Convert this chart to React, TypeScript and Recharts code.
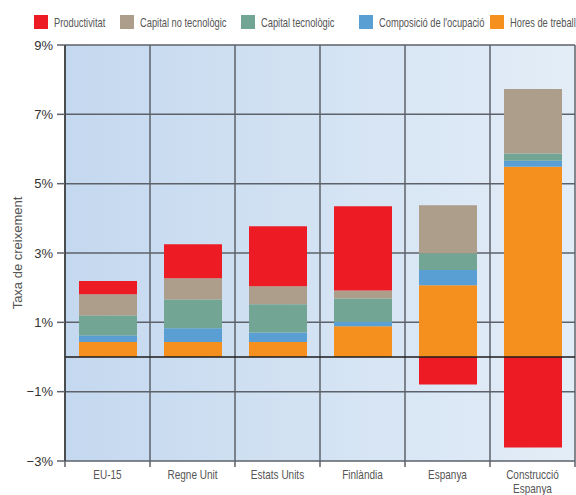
import React from 'react';
import {
  BarChart, Bar, XAxis, YAxis, CartesianGrid, ReferenceLine,
} from 'recharts';

// ─── Data ─────────────────────────────────────────────────────────────────────

const categories = ['EU-15', 'Regne Unit', 'Estats Units', 'Finlàndia', 'Espanya', 'Construcció Espanya'];

const hores         = [0.43, 0.43, 0.43, 0.89, 2.07, 5.49];
const composicio    = [0.19, 0.40, 0.28, 0.12, 0.44, 0.17];
const capTec        = [0.58, 0.83, 0.81, 0.68, 0.48, 0.21];
const capNoTec      = [0.61, 0.61, 0.52, 0.23, 1.39, 1.86];
const productivitat = [0.38, 0.98, 1.73, 2.43, -0.79, -2.61];

const yTicks = [-3, -1, 1, 3, 5, 7, 9];

// legend order (left to right) – stack order is the reverse
const series = [
  { key: 'productivitat', name: 'Productivitat',            color: '#ed1c24' },
  { key: 'capNoTec',      name: 'Capital no tecnològic',    color: '#ac9e8a' },
  { key: 'capTec',        name: 'Capital tecnològic',       color: '#72a593' },
  { key: 'composicio',    name: "Composició de l'ocupació", color: '#5a9fd4' },
  { key: 'hores',         name: 'Hores de treball',         color: '#f5901e' },
];

const data = categories.map((name, i) => ({
  name,
  hores: hores[i],
  composicio: composicio[i],
  capTec: capTec[i],
  capNoTec: capNoTec[i],
  productivitat: productivitat[i],
}));

// ─── Layout ───────────────────────────────────────────────────────────────────

const W = 576;
const H = 495;
const MARGIN = { top: 45, right: 1, bottom: 0, left: 0 };
const Y_AXIS_W = 65;
const X_AXIS_H = 34;
const PLOT_BOTTOM = H - MARGIN.bottom - X_AXIS_H;
const BAND = (W - MARGIN.left - MARGIN.right - Y_AXIS_W) / categories.length;

// no condensed face is installed, so text is squeezed horizontally instead
const FONT = "'Liberation Sans', Arial, sans-serif";
const LEGEND_X = [34, 120, 241, 359, 490];
const LEGEND_SQUEEZE = 0.69;
const TICK_SQUEEZE = 0.8;
const GRID = '#5d626a';

if (typeof document !== 'undefined') document.body.style.margin = '0';

// ─── X tick: label (wrapped) + tick mark at the band boundary ────────────────

// eslint-disable-next-line @typescript-eslint/no-explicit-any
function XTick(props: any) {
  const { x, payload, index } = props;
  const lines = payload.value === 'Construcció Espanya' ? String(payload.value).split(' ') : [payload.value];
  return (
    <g>
      <line x1={x - BAND / 2} x2={x - BAND / 2} y1={PLOT_BOTTOM} y2={PLOT_BOTTOM + 6} stroke={GRID} strokeWidth={1.5} />
      {index === categories.length - 1 && (
        <line x1={x + BAND / 2} x2={x + BAND / 2} y1={PLOT_BOTTOM} y2={PLOT_BOTTOM + 6} stroke={GRID} strokeWidth={1.5} />
      )}
      <g transform={`translate(${x},${PLOT_BOTTOM + 18}) scale(${TICK_SQUEEZE},1)`}>
        <text x={0} y={0} textAnchor="middle" fill="#555" fontSize={12.5}>
          {lines.map((l, i) => (
            <tspan key={i} x={0} dy={i === 0 ? 0 : 14}>{l}</tspan>
          ))}
        </text>
      </g>
    </g>
  );
}

const fmtPct = (v: number) => (v < 0 ? `\u2212${-v}%` : `${v}%`);

// ─── Component ────────────────────────────────────────────────────────────────

export default function App() {
  return (
    <div style={{ position: 'relative', width: W, height: H, fontFamily: FONT, background: '#fff', overflow: 'hidden' }}>
      {/* Legend */}
      {series.map((s, i) => (
        <div
          key={s.key}
          style={{ position: 'absolute', top: 14, left: LEGEND_X[i], height: 15, display: 'flex', alignItems: 'center', whiteSpace: 'nowrap' }}
        >
          <div style={{ width: 14, height: 14, background: s.color, marginRight: 6, flex: 'none' }} />
          <span
            style={{
              display: 'inline-block', fontSize: 13.5, lineHeight: '15px', color: '#555', marginTop: 2,
              transform: `scaleX(${LEGEND_SQUEEZE})`, transformOrigin: 'left center',
            }}
          >
            {s.name}
          </span>
        </div>
      ))}

      <BarChart
        width={W}
        height={H}
        data={data}
        margin={MARGIN}
        stackOffset="sign"
        barSize={58}
        style={{ fontFamily: FONT }}
      >
        <defs>
          <linearGradient id="bgGrad" x1="0" y1="0" x2="1" y2="0">
            <stop offset="0%" stopColor="#c4d8ef" />
            <stop offset="100%" stopColor="#e3edf7" />
          </linearGradient>
        </defs>

        <CartesianGrid
          fill="url(#bgGrad)"
          fillOpacity={1}
          stroke={GRID}
          strokeWidth={1.5}
          verticalCoordinatesGenerator={({ offset }: any) =>
            Array.from({ length: categories.length + 1 }, (_, i) => offset.left + (i * offset.width) / categories.length)
          }
        />

        <XAxis
          dataKey="name"
          interval={0}
          height={X_AXIS_H}
          axisLine={false}
          tickLine={false}
          tick={<XTick />}
        />
        <YAxis
          width={Y_AXIS_W}
          domain={[-3, 9]}
          ticks={yTicks}
          interval={0}
          tickFormatter={fmtPct}
          tickSize={8}
          tickMargin={4}
          tickLine={{ stroke: GRID, strokeWidth: 1.5 }}
          axisLine={{ stroke: '#3a3a3a', strokeWidth: 1.5 }}
          tick={{ fill: '#333', fontSize: 13 }}
          label={{ value: 'Taxa de creixement', angle: -90, position: 'insideLeft', offset: 17, fill: '#555', fontSize: 13, style: { textAnchor: 'middle' } }}
        />

        {[...series].reverse().map((s) => (
          <Bar key={s.key} dataKey={s.key} name={s.name} stackId="a" fill={s.color} isAnimationActive={false} />
        ))}

        <ReferenceLine y={0} stroke="#1c1c1c" strokeWidth={1.5} />
      </BarChart>
    </div>
  );
}
